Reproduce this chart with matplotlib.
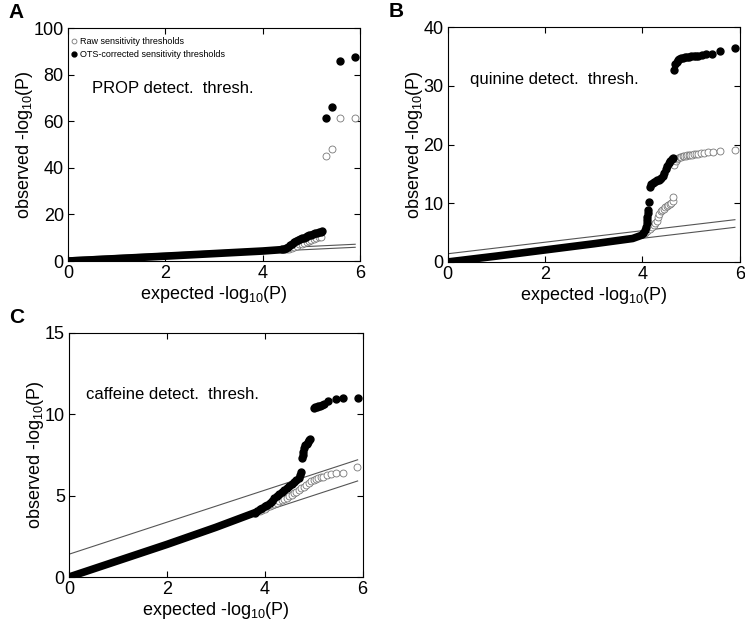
import matplotlib
matplotlib.use("Agg")
import matplotlib.pyplot as plt

plt.rcParams['font.family'] = ['Liberation Sans', 'DejaVu Sans']
plt.rcParams['mathtext.fontset'] = 'custom'
plt.rcParams['mathtext.rm'] = 'Liberation Sans'
plt.rcParams['mathtext.it'] = 'Liberation Sans'

# ---- panel A : PROP ----
a_bulk_x = [0, 1, 2, 3, 4, 4.4]
a_bulk_y = [0, 1.05, 2.1, 3.2, 4.3, 4.9]
a_fill_x = [4.40, 4.44, 4.48, 4.52, 4.56, 4.60, 4.64, 4.68, 4.72, 4.76, 4.80, 4.84, 4.88,
            4.92, 4.96, 5.00, 5.04, 5.08, 5.12, 5.16, 5.20, 5.22,
            5.3, 5.43, 5.58, 5.9]
a_fill_y = [5.0, 5.3, 5.7, 6.2, 6.8, 7.4, 8.0, 8.6, 9.1, 9.5, 9.8, 10.1, 10.4,
            10.7, 11.0, 11.3, 11.6, 11.9, 12.2, 12.4, 12.6, 12.7,
            61.6, 66.3, 86.0, 87.4]
a_open_x = [4.5, 4.55, 4.6, 4.65, 4.7, 4.75, 4.8, 4.85, 4.9, 4.95, 5.0, 5.05, 5.1, 5.15,
            5.2, 5.3, 5.42, 5.58, 5.9]
a_open_y = [5.0, 5.3, 5.7, 6.1, 6.6, 7.1, 7.5, 7.9, 8.3, 8.7, 9.1, 9.5, 9.9, 10.2,
            10.5, 45.0, 48.0, 61.5, 61.5]

# ---- panel B : quinine ----
b_bulk_x = [0, 1, 2, 3, 3.8, 4.0]
b_bulk_y = [0, 1.0, 2.05, 3.1, 4.0, 4.6]
b_fill_x = [4.02, 4.05, 4.07, 4.09, 4.10, 4.10, 4.11, 4.12, 4.13,
            4.15, 4.18, 4.21, 4.24, 4.27, 4.30, 4.33, 4.36, 4.39, 4.42, 4.45, 4.48,
            4.51, 4.54, 4.57, 4.60, 4.63,
            4.65, 4.67, 4.70, 4.73, 4.76, 4.80, 4.84, 4.88, 4.92, 4.96, 5.00, 5.05,
            5.10, 5.15, 5.22, 5.30, 5.42, 5.6, 5.9]
b_fill_y = [5.0, 5.4, 5.9, 6.6, 7.2, 7.7, 8.3, 8.9, 10.2,
            12.8, 13.2, 13.5, 13.7, 13.8, 13.9, 14.0, 14.1, 14.3, 14.7, 15.2, 15.8,
            16.3, 16.8, 17.2, 17.5, 17.7,
            32.7, 33.7, 34.1, 34.4, 34.6, 34.7, 34.8, 34.85, 34.9, 34.95, 35.0, 35.05,
            35.1, 35.15, 35.25, 35.35, 35.5, 36.0, 36.4]
b_open_x = [4.05, 4.1, 4.15, 4.2, 4.23, 4.26, 4.29, 4.32, 4.35, 4.38, 4.41, 4.44, 4.47,
            4.5, 4.53, 4.56, 4.59, 4.62, 4.63,
            4.65, 4.68, 4.71, 4.74, 4.77, 4.80, 4.83, 4.86, 4.89, 4.92, 4.95, 4.98,
            5.02, 5.06, 5.10, 5.15, 5.2, 5.27, 5.35, 5.45, 5.6, 5.9]
b_open_y = [5.0, 5.3, 5.6, 6.0, 6.3, 6.6, 7.0, 7.6, 8.2, 8.6, 8.9, 9.1, 9.3,
            9.5, 9.7, 9.9, 10.1, 10.4, 11.1,
            16.5, 17.2, 17.5, 17.7, 17.8, 17.9, 18.0, 18.05, 18.1, 18.15, 18.2, 18.25,
            18.3, 18.35, 18.4, 18.45, 18.5, 18.6, 18.7, 18.8, 18.9, 19.0]

# ---- panel C : caffeine ----
c_bulk_x = [0, 1, 2, 3, 3.8]
c_bulk_y = [0, 1.0, 2.0, 3.05, 3.95]
c_fill_x = [3.8, 3.85, 3.9, 3.95, 4.0, 4.05, 4.1, 4.15, 4.2, 4.25, 4.3, 4.35, 4.4, 4.45,
            4.5, 4.55, 4.6, 4.65, 4.7, 4.73, 4.75,
            4.77, 4.78, 4.79, 4.81, 4.83, 4.86, 4.88, 4.91, 4.93,
            5.0, 5.03, 5.06, 5.1, 5.14, 5.18, 5.22, 5.3, 5.45, 5.6, 5.9]
c_fill_y = [3.95, 4.05, 4.15, 4.25, 4.35, 4.45, 4.57, 4.7, 4.85, 4.98, 5.1, 5.22, 5.35,
            5.47, 5.6, 5.72, 5.85, 5.97, 6.1, 6.25, 6.45,
            7.3, 7.5, 7.65, 7.9, 8.1, 8.2, 8.3, 8.4, 8.5,
            10.4, 10.42, 10.45, 10.5, 10.53, 10.56, 10.6, 10.8, 10.95, 11.0, 11.0]
c_open_x = [3.9, 3.95, 4.0, 4.05, 4.1, 4.15, 4.2, 4.25, 4.3, 4.35, 4.4, 4.45, 4.5, 4.55,
            4.6, 4.65, 4.7, 4.75, 4.8, 4.85, 4.9, 4.95, 5.0, 5.05, 5.1, 5.15, 5.2, 5.27,
            5.35, 5.45, 5.6, 5.88]
c_open_y = [4.05, 4.12, 4.2, 4.28, 4.35, 4.42, 4.5, 4.57, 4.65, 4.72, 4.8, 4.87, 4.95,
            5.05, 5.15, 5.25, 5.35, 5.45, 5.55, 5.68, 5.8, 5.9, 5.97, 6.02, 6.07, 6.12,
            6.17, 6.25, 6.35, 6.4, 6.4, 6.75]

# confidence bounds (same in all panels)
lo_x, lo_y = [0, 5.9], [0.1, 5.9]
hi_x, hi_y = [0, 5.9], [1.4, 7.2]

panels = [
    ('A', [0.0913, 0.581, 0.392, 0.374], [0, 20, 40, 60, 80, 100], 100,
     a_bulk_x, a_bulk_y, a_fill_x, a_fill_y, a_open_x, a_open_y,
     'PROP detect.  thresh.', (0.5, 74)),
    ('B', [0.601, 0.5795, 0.392, 0.377], [0, 10, 20, 30, 40], 40,
     b_bulk_x, b_bulk_y, b_fill_x, b_fill_y, b_open_x, b_open_y,
     'quinine detect.  thresh.', (0.45, 31)),
    ('C', [0.0926, 0.0738, 0.394, 0.392], [0, 5, 10, 15], 15,
     c_bulk_x, c_bulk_y, c_fill_x, c_fill_y, c_open_x, c_open_y,
     'caffeine detect.  thresh.', (0.35, 11.2)),
]

fig = plt.figure(figsize=(7.45, 6.23), dpi=100)

for (letter, rect, yticks, ymax, bx, by, fx, fy, ox, oy, label, lpos) in panels:
    ax = fig.add_axes(rect)
    ax.plot(lo_x, lo_y, color='#555555', lw=0.8, zorder=1)
    ax.plot(hi_x, hi_y, color='#555555', lw=0.8, zorder=1)
    ax.plot(ox, oy, 'o', ms=5, mfc='white', mec='#777777', mew=0.6, zorder=2,
            label='Raw sensitivity thresholds')
    ax.plot(bx, by, '-', color='black', lw=5.5, solid_capstyle='round', zorder=3)
    ax.plot(fx, fy, 'o', ms=5, color='black', zorder=3,
            label='OTS-corrected sensitivity thresholds')
    ax.set_xlim(0, 6)
    ax.set_ylim(0, ymax)
    ax.set_xticks([0, 2, 4, 6])
    ax.set_yticks(yticks)
    ax.tick_params(direction='in', top=True, right=True, length=4, width=0.8,
                   labelsize=13, pad=3)
    for s in ax.spines.values():
        s.set_linewidth(0.8)
    ax.set_xlabel(r'expected -log$_{10}$(P)', fontsize=13, labelpad=1)
    ax.set_ylabel(r'observed -log$_{10}$(P)', fontsize=13, labelpad=-1)
    ax.text(lpos[0], lpos[1], label, fontsize=12, va='center')
    fig.text(rect[0] - 0.08, rect[1] + rect[3] + 0.04, letter, fontsize=15,
             weight='bold', va='top')
    if letter == 'A':
        h, l = ax.get_legend_handles_labels()
        ax.legend(h, l, loc='upper left', bbox_to_anchor=(-0.01, 0.99), frameon=False,
                  prop={'family': ['Liberation Sans Narrow', 'Liberation Sans'],
                        'size': 6.5},
                  handlelength=0.6, handletextpad=0.4, labelspacing=0.45,
                  markerscale=0.7, borderaxespad=0.3)

fig.savefig('out.png', dpi=100)
